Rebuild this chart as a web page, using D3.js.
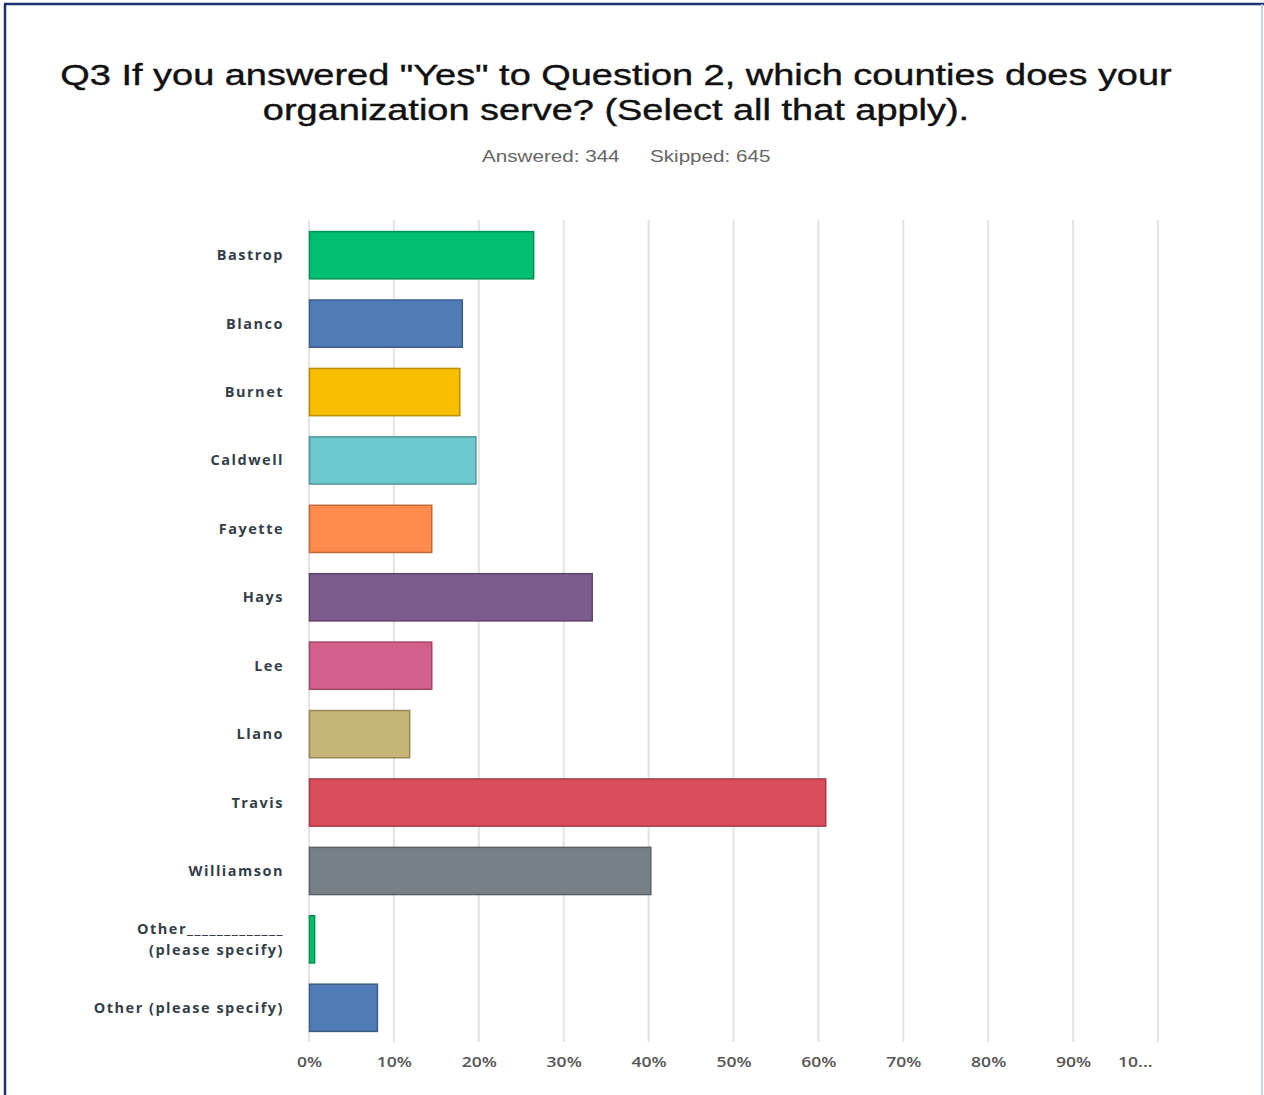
<!DOCTYPE html>
<html>
<head>
<meta charset="utf-8">
<script src="https://cdn.jsdelivr.net/npm/d3@7"></script>
<style>
  html, body { margin: 0; padding: 0; background: #fff; }
  svg { display: block; }
</style>
</head>
<body>
<script>
// Survey response data: share of respondents serving each county (%)
const counties = ["Bastrop", "Blanco", "Burnet", "Caldwell", "Fayette", "Hays", "Lee", "Llano",
  "Travis", "Williamson", "Other_____________\n(please specify)", "Other (please specify)"];
const shares = [26.4, 18.0, 17.7, 19.6, 14.4, 33.3, 14.4, 11.8, 60.8, 40.2, 0.6, 8.0];
const barColors = ["#00BF6F", "#507CB6", "#F9BE00", "#6BC8CD", "#FF8B4F", "#7D5B8D",
  "#D25F8C", "#C7B477", "#DB4D5C", "#788088", "#00BF6F", "#507CB6"];
const tickValues = [0, 10, 20, 30, 40, 50, 60, 70, 80, 90, 100];
const tickLabels = ["0%", "10%", "20%", "30%", "40%", "50%", "60%", "70%", "80%", "90%", "10..."];

const titleLines = ["Q3 If you answered \"Yes\" to Question 2, which counties does your",
  "organization serve? (Select all that apply)."];
const summary = ["Answered: 344", "Skipped: 645"];

const W = 1264, H = 1095;
const svg = d3.select("body").append("svg").attr("width", W).attr("height", H);

// Places text at (x, y) with a horizontal stretch factor
function stretched(parent, x, y, sx, str, anchor) {
  return parent.append("text")
    .attr("transform", `translate(${x},${y}) scale(${sx},1)`)
    .attr("text-anchor", anchor || "start")
    .text(str);
}

// Frame
svg.append("rect").attr("x", 0).attr("y", 0).attr("width", W).attr("height", H).attr("fill", "#fff");
svg.append("line").attr("x1", 4).attr("x2", W).attr("y1", 4).attr("y2", 4)
  .attr("stroke", "#1c3370").attr("stroke-width", 2.5);
svg.append("line").attr("x1", 5).attr("x2", 5).attr("y1", 4).attr("y2", H)
  .attr("stroke", "#1c3370").attr("stroke-width", 2.5);
svg.append("line").attr("x1", 1262).attr("x2", 1262).attr("y1", 4).attr("y2", H)
  .attr("stroke", "#b8c4d8").attr("stroke-width", 1.5);

// Title
const titleG = svg.append("g")
  .attr("font-family", "Liberation Sans, Arial, sans-serif")
  .attr("font-size", 30).attr("fill", "#111")
  .attr("stroke", "#111").attr("stroke-width", 0.4);
titleLines.forEach((t, i) => stretched(titleG, 616, 85 + i * 35, 1.265, t, "middle"));

// Answered / skipped
const sumG = svg.append("g")
  .attr("font-family", "Liberation Sans, Arial, sans-serif").attr("font-size", 16)
  .attr("fill", "#666");
stretched(sumG, 482, 162, 1.29, summary[0]);
stretched(sumG, 650, 162, 1.29, summary[1]);

// Scales
const x = d3.scaleLinear().domain([0, 100]).range([309, 1158]);
const y = d3.scaleBand().domain(counties).range([221, 1042]).paddingInner(0.31).paddingOuter(0.155);

// Gridlines
svg.append("g").selectAll("line").data(tickValues).join("line")
  .attr("x1", d => x(d)).attr("x2", d => x(d))
  .attr("y1", 220).attr("y2", 1042)
  .attr("stroke", "#e3e3e3").attr("stroke-width", 2);

// Bars
svg.append("g").selectAll("rect").data(counties).join("rect")
  .attr("x", x(0) + 0.5)
  .attr("y", d => y(d))
  .attr("width", (d, i) => Math.max(0, x(shares[i]) - x(0)))
  .attr("height", y.bandwidth())
  .attr("fill", (d, i) => barColors[i])
  .attr("stroke", (d, i) => d3.color(barColors[i]).darker(0.8))
  .attr("stroke-width", 1.5);

// Category labels
const labelG = svg.append("g")
  .attr("font-family", "Open Sans, sans-serif").attr("font-weight", "bold")
  .attr("font-size", 14.5).attr("fill", "#333e48").attr("letter-spacing", 1.5);
counties.forEach((c) => {
  const lines = c.split("\n");
  const cy = y(c) + y.bandwidth() / 2;
  lines.forEach((ln, j) => {
    labelG.append("text")
      .attr("x", 284).attr("text-anchor", "end")
      .attr("y", cy + 5 + (j - (lines.length - 1) / 2) * 21)
      .text(ln);
  });
});

// X axis labels
const axis = d3.axisBottom(x).tickValues(tickValues)
  .tickFormat((d, i) => tickLabels[i]).tickSize(0).tickPadding(0);
const ax = svg.append("g").attr("transform", "translate(0,1055)").call(axis);
ax.select(".domain").remove();
ax.selectAll(".tick text")
  .attr("font-family", "Open Sans, sans-serif").attr("font-size", 13.5).attr("font-weight", 600)
  .attr("fill", "#555").attr("dy", "0.9em")
  .attr("transform", "scale(1.3,1)")
  .attr("x", 0);
// Last (truncated) label sits left of its gridline
ax.selectAll(".tick").filter(d => d === 100).select("text")
  .attr("text-anchor", "end").attr("x", -6 / 1.3);
</script>
</body>
</html>
